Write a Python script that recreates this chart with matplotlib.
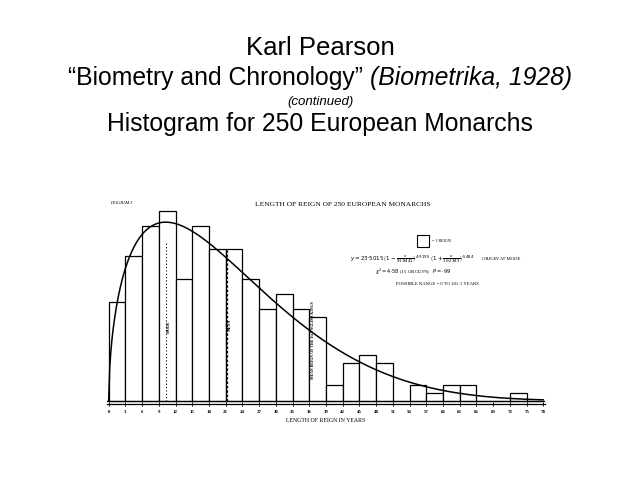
import matplotlib
matplotlib.use("Agg")
import matplotlib.pyplot as plt
from matplotlib.patches import Rectangle
import numpy as np

# histogram: 3-year groups, counts of reigns
bin_edges = list(range(0, 79, 3))
counts = [13, 19, 23, 25, 16, 23, 20, 20, 16, 12, 14, 12, 11,
          2, 5, 6, 5, 0, 2, 1, 2, 2, 0, 0, 1, 0]
tick_labels = [str(v) for v in bin_edges]

# Pearson curve constants as printed on the diagram (origin at mode)
y0 = 23.5015
a_right, m_right = 91.8441, 4.9195
a_left, m_left = 10.2383, 0.5484
mode_x = 10.2383
mean_x = 21.2
mean_english_x = 36.3

plt.rcParams['font.family'] = ['Liberation Sans', 'DejaVu Sans']
serif = ['Liberation Serif', 'DejaVu Serif']

fig = plt.figure(figsize=(6.4, 4.8), dpi=100)
fig.patch.set_facecolor('white')

#%% slide titles
fig.text(0.5, 1 - 48 / 480, 'Karl Pearson', ha='center', va='center', fontsize=18.5)
fig.text(0.5, 1 - 102 / 480, '(continued)', ha='center', va='center',
         fontsize=9.5, style='italic')
fig.text(0.5, 1 - 124 / 480, 'Histogram for 250 European Monarchs',
         ha='center', va='center', fontsize=17.8)

r = fig.canvas.get_renderer()
t1 = fig.text(0, 1 - 78 / 480, '\u201cBiometry and Chronology\u201d ', ha='left',
              va='center', fontsize=17.8)
t2 = fig.text(0, 1 - 78 / 480, '(Biometrika, 1928)', ha='left', va='center',
              fontsize=17.8, style='italic')
w1 = t1.get_window_extent(r).width / fig.bbox.width
w2 = t2.get_window_extent(r).width / fig.bbox.width
x0 = 0.5 - (w1 + w2) / 2
t1.set_x(x0)
t2.set_x(x0 + w1)

#%% diagram
ax = fig.add_axes([107 / 640, 1 - 404 / 480, 438 / 640, 216 / 480])
ax.bar(bin_edges[:-1], counts, width=3, align='edge', facecolor='white',
       edgecolor='black', linewidth=0.9)

xs = np.linspace(0, 78, 400)
u = xs - mode_x
curve = y0 * (1 - u / a_right) ** m_right * np.clip(1 + u / a_left, 0, None) ** m_left
ax.plot(xs, curve, color='black', lw=1.1)

ax.axhline(0, color='black', lw=0.9)
ax.set_xlim(-0.3, 78.3)
ax.set_ylim(-0.45, 28)
for s in ['top', 'right', 'left']:
    ax.spines[s].set_visible(False)
ax.spines['bottom'].set_linewidth(0.9)
ax.set_yticks([])
ax.set_xticks(bin_edges)
ax.set_xticklabels(tick_labels, fontsize=3.5, family=serif, fontweight='bold')
ax.tick_params(axis='x', length=3, width=0.7, direction='inout', pad=2.5)

# mode and mean lines
ax.plot([mode_x, mode_x], [0, 21], color='black', lw=0.8, ls=(0, (1, 2)))
ax.text(mode_x + 0.5, 9.7, 'MODE', rotation=90, ha='center', va='center',
        fontsize=3, family=serif, fontweight='bold')
ax.plot([mean_x, mean_x], [0, 19.8], color='black', lw=0.9, ls=(0, (2, 1.5)))
ax.text(mean_x + 0.5, 10, 'MEAN', rotation=90, ha='center', va='center',
        fontsize=3, family=serif, fontweight='bold')
ax.text(mean_english_x + 0.4, 8.0, 'MEAN REIGN OF THE 1st ENGLISH KINGS',
        rotation=90, ha='center', va='center', fontsize=2.8, family=serif,
        fontweight='bold')

# diagram captions
ax.text(0.2, 26.0, 'DIAGRAM I', ha='left', va='center', fontsize=3.2,
        family=serif, style='italic')
ax.text(42.0, 25.8, 'LENGTH OF REIGN OF 250 EUROPEAN MONARCHS', ha='center',
        va='center', fontsize=5.4, family=serif)
ax.set_xlabel('LENGTH OF REIGN IN YEARS', fontsize=4.2, family=serif, labelpad=3)

# key and fit statistics
ax.add_patch(Rectangle((55.4, 20.2), 2.15, 1.6, facecolor='white',
                       edgecolor='black', lw=0.8))
ax.text(58.0, 21.0, '= 1 REIGN', ha='left', va='center', fontsize=3,
        family=serif)
ax.text(54.4, 18.7,
        r'$y = 23{\cdot}5015\,\left(1-\frac{x}{91{\cdot}8441}\right)^{4{\cdot}9195}'
        r'\ \left(1+\frac{x}{10{\cdot}2383}\right)^{{\cdot}5484}$',
        ha='center', va='center', fontsize=4.0)
ax.text(67.0, 18.7, 'ORIGIN AT MODE', ha='left', va='center', fontsize=3.4,
        family=serif)
ax.text(54.6, 17.0, r'$\chi^2 = 4{\cdot}58$ (15 GROUPS)   $P = {\cdot}99$',
        ha='center', va='center', fontsize=3.6, family=serif)
ax.text(58.9, 15.4, 'POSSIBLE RANGE = 0 TO 101\u00b71 YEARS', ha='center',
        va='center', fontsize=3.4, family=serif)

fig.savefig('out.png', dpi=100, facecolor='white')
